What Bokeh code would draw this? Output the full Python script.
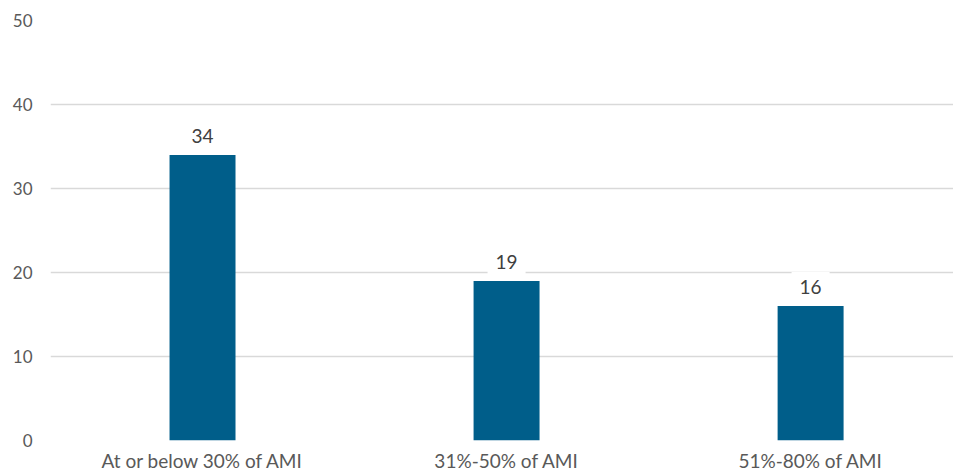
from bokeh.plotting import figure
from bokeh.models import Range1d, FixedTicker, ColumnDataSource
from bokeh.core.properties import value
from bokeh.embed import file_html
from bokeh.resources import INLINE

# Households by income band (share of Area Median Income)
categories = ["At or below 30% of AMI", "31%-50% of AMI", "51%-80% of AMI"]
counts = [34, 19, 16]
y_ticks = [0, 10, 20, 30, 40, 50]

FONT = "Lato"
BAR_COLOR = "#005E8A"

positions = [i + 0.5 for i in range(len(categories))]
source = ColumnDataSource(dict(
    x=positions,
    top=counts,
    label=[str(c) for c in counts],
))

p = figure(
    width=953, height=475,
    x_range=Range1d(0, 2.97), y_range=Range1d(0, 50),
    output_backend="svg", toolbar_location=None,
    min_border_left=50, min_border_right=0,
    min_border_top=20, min_border_bottom=35,
)
p.outline_line_color = None
p.background_fill_color = "white"
p.border_fill_color = "white"

p.vbar(x="x", top="top", bottom=0, width=0.217, source=source,
       fill_color=BAR_COLOR, line_color=None)

# value labels on white boxes that break the grid lines behind them
p.text(x="x", y="top", text="label", source=source,
       text_align="center", text_baseline="middle", y_offset=-19,
       text_font=value(FONT), text_font_size="19px", text_color="#404040",
       background_fill_color="white", padding=8)

# y axis: labels only, light horizontal grid
p.yaxis.ticker = FixedTicker(ticks=y_ticks)
p.yaxis.axis_line_color = None
p.yaxis.major_tick_line_color = None
p.yaxis.minor_tick_line_color = None
p.yaxis.major_tick_out = 0
p.yaxis.major_tick_in = 0
p.yaxis.major_label_standoff = 18
p.yaxis.major_label_text_font = FONT
p.yaxis.major_label_text_font_size = "17px"
p.yaxis.major_label_text_color = "#595959"
p.ygrid.grid_line_color = "#D9D9D9"
p.ygrid.grid_line_width = 1.5

# x axis: category names under each bar
p.xaxis.ticker = FixedTicker(ticks=positions)
p.xaxis.major_label_overrides = {pos: name for pos, name in zip(positions, categories)}
p.xaxis.axis_line_color = None
p.xaxis.major_tick_line_color = None
p.xaxis.minor_tick_line_color = None
p.xaxis.major_tick_out = 0
p.xaxis.major_tick_in = 0
p.xaxis.major_label_standoff = 8
p.xaxis.major_label_text_font = FONT
p.xaxis.major_label_text_font_size = "19px"
p.xaxis.major_label_text_color = "#595959"
p.xgrid.grid_line_color = None

open("out.html", "w").write(file_html(p, INLINE))
